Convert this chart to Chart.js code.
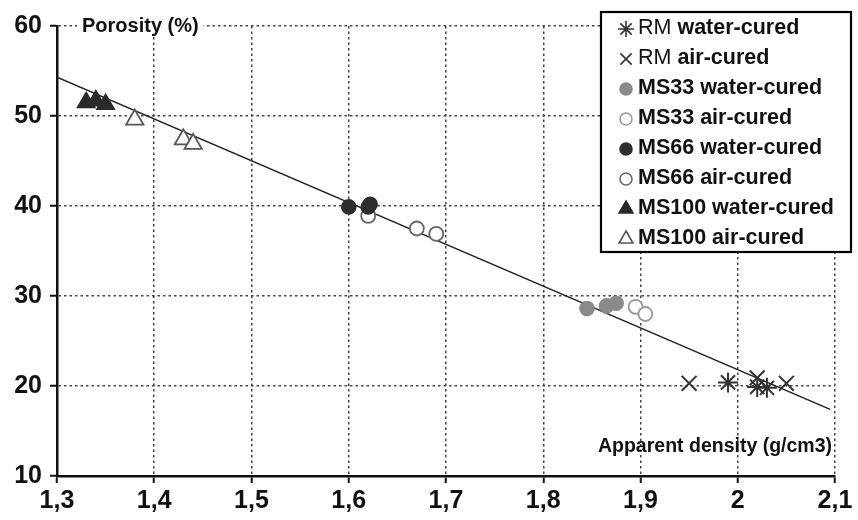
<!DOCTYPE html>
<html>
<head>
<meta charset="utf-8">
<script src="https://cdn.jsdelivr.net/npm/chart.js@4.4.0/dist/chart.umd.min.js"></script>
<style>
  body { margin: 0; background: #fff; }
  #wrap { width: 858px; height: 520px; }
</style>
</head>
<body>
<div id="wrap"><canvas id="scatter-chart" width="858" height="520"></canvas></div>
<script>
// values
var seriesNames = ["RM water-cured", "RM air-cured", "MS33 water-cured", "MS33 air-cured",
                   "MS66 water-cured", "MS66 air-cured", "MS100 water-cured", "MS100 air-cured"];

var rmWaterX = [1.99, 2.02, 2.03];
var rmWaterY = [20.4, 19.9, 19.8];
var rmAirX = [1.95, 2.02, 2.05];
var rmAirY = [20.3, 20.9, 20.3];
var ms33WaterX = [1.845, 1.865, 1.875];
var ms33WaterY = [28.6, 28.9, 29.2];
var ms33AirX = [1.895, 1.905];
var ms33AirY = [28.8, 28.0];
var ms66WaterX = [1.60, 1.62, 1.622];
var ms66WaterY = [39.9, 39.9, 40.2];
var ms66AirX = [1.62, 1.67, 1.69];
var ms66AirY = [38.9, 37.5, 36.9];
var ms100WaterX = [1.33, 1.34, 1.35];
var ms100WaterY = [51.5, 51.7, 51.3];
var ms100AirX = [1.38, 1.43, 1.44];
var ms100AirY = [49.6, 47.4, 46.9];

// regression line ends
var trendX = [1.3, 2.095];
var trendY = [54.3, 17.4];

var xTickLabels = ["1,3", "1,4", "1,5", "1,6", "1,7", "1,8", "1,9", "2", "2,1"];
var yTickLabels = ["10", "20", "30", "40", "50", "60"];

var FONT = '"Liberation Sans", Arial, sans-serif';

function pts(xs, ys) {
  return xs.map(function (x, i) { return { x: x, y: ys[i] }; });
}

function series(i, xs, ys, style, radius, fill, stroke, bw) {
  return {
    label: seriesNames[i],
    data: pts(xs, ys),
    pointStyle: style,
    pointRadius: radius,
    pointHoverRadius: radius,
    pointBackgroundColor: fill,
    pointBorderColor: stroke,
    pointBorderWidth: bw,
    showLine: false
  };
}

var datasets = [
  series(0, rmWaterX, rmWaterY, "star", 10, "#333", "#333", 2),
  series(1, rmAirX, rmAirY, "crossRot", 10.5, "#333", "#333", 2),
  series(2, ms33WaterX, ms33WaterY, "circle", 7, "#8a8a8a", "#8a8a8a", 1.6),
  series(3, ms33AirX, ms33AirY, "circle", 7, "#fff", "#999", 1.8),
  series(4, ms66WaterX, ms66WaterY, "circle", 7, "#2e2e2e", "#2e2e2e", 1.6),
  series(5, ms66AirX, ms66AirY, "circle", 7, "#fff", "#666", 1.8),
  series(6, ms100WaterX, ms100WaterY, "triangle", 10, "#2a2a2a", "#2a2a2a", 1.6),
  series(7, ms100AirX, ms100AirY, "triangle", 10, "#fff", "#555", 1.8)
];

datasets.push({
  label: "trend",
  data: pts(trendX, trendY),
  showLine: true,
  borderColor: "#222",
  borderWidth: 1.5,
  pointRadius: 0,
  fill: false
});

// legend box + axis titles drawn on top
var overlay = {
  id: "overlay",
  afterDraw: function (chart) {
    var ctx = chart.ctx, a = chart.chartArea;
    ctx.save();

    // Porosity (%)
    ctx.font = "bold 20px " + FONT;
    ctx.textBaseline = "middle";
    var t = "Porosity (%)";
    var w = ctx.measureText(t).width;
    ctx.fillStyle = "#fff";
    ctx.fillRect(a.left + 20, a.top - 11, w + 10, 22);
    ctx.fillStyle = "#111";
    ctx.textAlign = "left";
    ctx.fillText(t, a.left + 25, a.top);

    // Apparent density
    ctx.font = "bold 19.5px " + FONT;
    ctx.textAlign = "right";
    ctx.fillText("Apparent density (g/cm3)", a.right - 3, a.bottom - 29);

    // legend
    var bx = 601, by = 12, bw = 250, bh = 240;
    ctx.fillStyle = "#fff";
    ctx.fillRect(bx, by, bw, bh);
    ctx.strokeStyle = "#000";
    ctx.lineWidth = 2.2;
    ctx.strokeRect(bx, by, bw, bh);

    ctx.textAlign = "left";
    for (var i = 0; i < seriesNames.length; i++) {
      var ds = chart.data.datasets[i];
      var y = by + 16 + i * 30;
      ctx.fillStyle = ds.pointBackgroundColor;
      ctx.strokeStyle = ds.pointBorderColor;
      var r = ds.pointStyle === "triangle" ? 8 : (ds.pointStyle === "circle" ? 6 : 8);
      ctx.lineWidth = 1.6;
      Chart.helpers.drawPoint(ctx, { pointStyle: ds.pointStyle, radius: r, borderWidth: 1.6, rotation: 0 }, 626, y + 1);

      var name = seriesNames[i];
      var x = 638;
      ctx.fillStyle = "#111";
      if (name.indexOf("RM ") === 0) {
        ctx.font = "21.5px " + FONT;
        ctx.fillText("RM ", x, y);
        x += ctx.measureText("RM ").width;
        name = name.substring(3);
      }
      ctx.font = "bold 21.5px " + FONT;
      ctx.fillText(name, x, y);
    }
    ctx.restore();
  }
};

var gridOpts = {
  color: "#444",
  lineWidth: 1.5,
  tickColor: "#111",
  tickLength: 7,
  tickWidth: 2
};

new Chart(document.getElementById("scatter-chart"), {
  type: "scatter",
  data: { datasets: datasets },
  plugins: [overlay],
  options: {
    responsive: false,
    animation: false,
    layout: { padding: { top: 26, right: 23, left: 0, bottom: 0 } },
    plugins: {
      legend: { display: false },
      tooltip: { enabled: false }
    },
    scales: {
      x: {
        type: "linear",
        min: 1.3,
        max: 2.1,
        afterFit: function (s) { s.height = 44; },
        ticks: {
          stepSize: 0.1,
          padding: 3,
          color: "#111",
          font: { family: FONT, size: 25, weight: "bold" },
          callback: function (v, i) { return xTickLabels[i]; }
        },
        grid: gridOpts,
        border: { color: "#111", width: 2.5, dash: [2.5, 3] }
      },
      y: {
        min: 10,
        max: 60,
        afterFit: function (s) { s.width = 57; },
        ticks: {
          stepSize: 10,
          padding: 8,
          color: "#111",
          font: { family: FONT, size: 25, weight: "bold" },
          callback: function (v, i) { return yTickLabels[i]; }
        },
        grid: gridOpts,
        border: { color: "#111", width: 2.5, dash: [2.5, 3] }
      }
    }
  }
});
</script>
</body>
</html>
